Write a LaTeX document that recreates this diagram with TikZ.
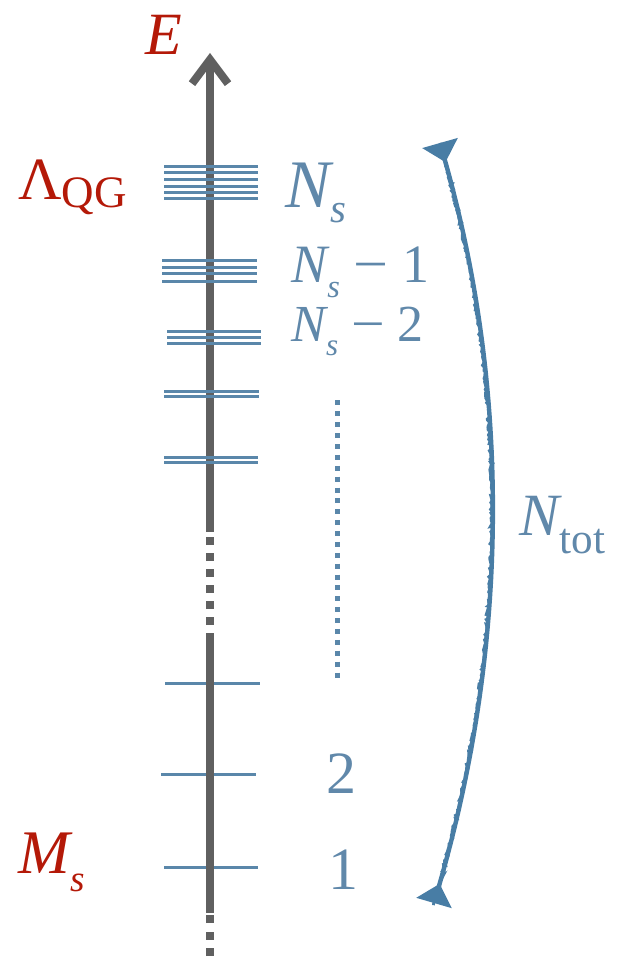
\documentclass[tikz,border=0pt]{standalone}
\usepackage{fontspec}
\setmainfont{Liberation Serif}
\usetikzlibrary{arrows.meta,decorations.pathmorphing}
\definecolor{axisgray}{RGB}{96,96,96}
\definecolor{levelblue}{RGB}{90,135,170}
\definecolor{textblue}{RGB}{96,136,170}
\definecolor{arcblue}{RGB}{72,125,165}
\definecolor{labelred}{RGB}{180,25,8}
\newcommand\lowsub[3]{\raisebox{-#2em}{\scalebox{#1}{#3}}}

\begin{document}
\begin{tikzpicture}[x=0.5pt, y=-0.5pt,
    axis/.style={line width=4pt, draw=axisgray},
    level/.style={line width=1.5pt, draw=levelblue},
    redlabel/.style={text=labelred, inner sep=0pt, anchor=base west},
    bluelabel/.style={text=textblue, inner sep=0pt, anchor=base west}]
    \useasboundingbox (0,0) rectangle (618,961);

    % lowest levels, under the axis
    \foreach \y/\a/\b in {683/165/260, 774/161/256, 867/164/258}
        \draw[level] (\a,\y) -- (\b,\y);

    % energy axis
    \coordinate (axtop) at (210,53);
    \coordinate (gaptop) at (210,532);
    \coordinate (gapbot) at (210,625);
    \coordinate (lowtop) at (210,633);
    \coordinate (lowbot) at (210,913);
    \coordinate (tailtop) at (210,915);
    \coordinate (tailbot) at (210,956);
    \draw[axis, -{Straight Barb[length=12pt, width=18pt]}] (gaptop) -- (axtop);
    \draw[axis, dash pattern=on 4pt off 4pt] (gapbot) -- (gaptop);
    \draw[axis] (lowbot) -- (lowtop);
    \draw[axis, dash pattern=on 4pt off 4.25pt] (tailbot) -- (tailtop);

    % level groups
    \foreach \y in {167,173,180,187,193,199}
        \draw[level] (164,\y) -- (258,\y);
    \foreach \y in {261,268,274,282}
        \draw[level] (162,\y) -- (257,\y);
    \foreach \y in {332,338,344}
        \draw[level] (167,\y) -- (261,\y);
    \foreach \y in {392,397}
        \draw[level] (164,\y) -- (259,\y);
    \foreach \y in {457,462}
        \draw[level] (164,\y) -- (258,\y);

    % dotted continuation
    \coordinate (dottop) at (337,400.5);
    \coordinate (dotbot) at (337,677.5);
    \draw[levelblue, line width=2.5pt, dash pattern=on 2.5pt off 2.94pt] (dottop) -- (dotbot);

    % counting arc
    \coordinate (ntop) at (440,143);
    \coordinate (nbot) at (434,903);
    \draw[arcblue, line width=2.2pt,
        {Triangle[reversed, length=10pt, width=18pt]}-{Triangle[reversed, length=10pt, width=18pt]}]
        (ntop) .. controls (511,392) and (509,646) .. (nbot);
    \draw[arcblue, line width=1.4pt, decorate,
        decoration={random steps, segment length=1pt, amplitude=0.7pt}]
        (ntop) .. controls (511,392) and (509,646) .. (nbot);

    % labels
    \node[redlabel, font=\fontsize{30}{36}\selectfont] (elabel) at (145,55) {\itshape E};
    \node[redlabel, font=\fontsize{30}{36}\selectfont] (lqg) at (18,200)
        {Λ\lowsub{0.75}{0.13}{QG}};
    \node[redlabel, font=\fontsize{31}{36}\selectfont] (ms) at (18,873)
        {\itshape M\lowsub{0.6}{0.3}{s}};
    \node[bluelabel, font=\fontsize{34}{40}\selectfont] (ns) at (285,208)
        {\itshape N\lowsub{0.6}{0.22}{s}};
    \node[bluelabel, font=\fontsize{27}{32}\selectfont] (nsone) at (291,283)
        {\itshape N\lowsub{0.6}{0.26}{s}\upshape\ \scalebox{1.15}[1]{−} 1};
    \node[bluelabel, font=\fontsize{26}{32}\selectfont] (nstwo) at (291,342)
        {\itshape N\lowsub{0.6}{0.26}{s}\upshape\ \scalebox{1.15}[1]{−} 2};
    \node[text=textblue, inner sep=0pt, anchor=base, font=\fontsize{30}{36}\selectfont]
        (two) at (341,793) {2};
    \node[text=textblue, inner sep=0pt, anchor=base, font=\fontsize{30}{36}\selectfont]
        (one) at (343,889) {1};
    \node[bluelabel, font=\fontsize{30}{36}\selectfont] (ntot) at (519,535)
        {\itshape N\upshape\lowsub{0.72}{0.3}{tot}};
\end{tikzpicture}
\end{document}
